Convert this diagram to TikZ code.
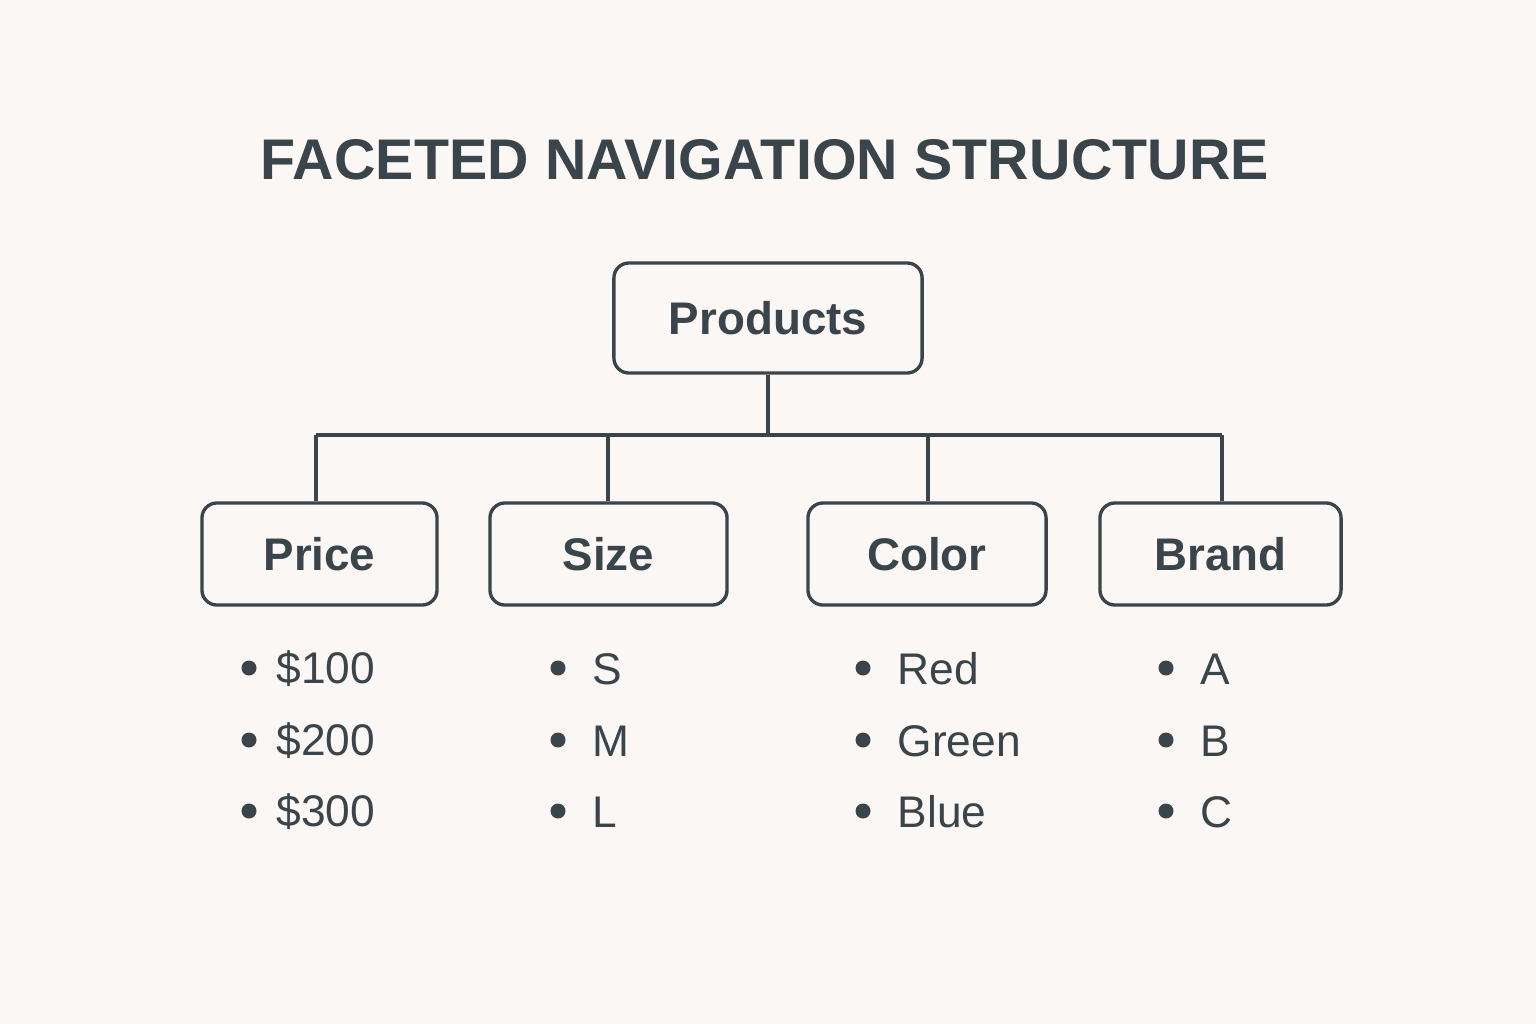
\documentclass[tikz,border=0pt]{standalone}
\usepackage{fontspec}
\setmainfont{Liberation Sans}
\definecolor{ink}{HTML}{3A444B}
\definecolor{bg}{HTML}{FBF7F4}
\tikzset{
  facet/.style={draw=ink, line width=0.95pt, rounded corners=0.15cm, fill=bg,
    text=ink, font=\fontsize{13.0}{16}\selectfont\bfseries, inner sep=0pt, anchor=center},
  conn/.style={draw=ink, line width=0.95pt},
  item/.style={text=ink, font=\fontsize{12.6}{15}\selectfont, anchor=west, inner sep=0pt},
  dot/.style={circle, fill=ink, inner sep=0pt, minimum size=0.15cm}
}
\begin{document}
\begin{tikzpicture}[x=0.01cm,y=-0.01cm]
\fill[bg] (0,0) rectangle (1536,1024);
\useasboundingbox (0,0) rectangle (1536,1024);
\node[text=ink, font=\fontsize{16.3}{20}\selectfont\bfseries\addfontfeatures{LetterSpace=0.3}] (title) at (765,160) {FACETED NAVIGATION STRUCTURE};
\node[facet, minimum width=3.08cm, minimum height=1.10cm] (prod) at (768,318) {Products};
\node[facet, minimum width=2.35cm, minimum height=1.02cm] (price) at (319.5,554) {Price};
\node[facet, minimum width=2.37cm, minimum height=1.02cm] (size) at (608.5,554) {Size};
\node[facet, minimum width=2.38cm, minimum height=1.02cm] (color) at (927,554) {Color};
\node[facet, minimum width=2.41cm, minimum height=1.02cm] (brand) at (1220.5,554) {Brand};
\coordinate (hub) at (768,435);
\coordinate (h1) at (316,435);
\coordinate (h2) at (608,435);
\coordinate (h3) at (928,435);
\coordinate (h4) at (1222,435);
\draw[conn] (prod.south) -- (hub);
\draw[conn] (h1) -- (h4);
\draw[conn] (h1) -- (h1 |- price.north);
\draw[conn] (h2) -- (h2 |- size.north);
\draw[conn] (h3) -- (h3 |- color.north);
\draw[conn] (h4) -- (h4 |- brand.north);
% lists
\foreach \bx/\tx/\a/\b/\c/\n in {249/276/\$100/\$200/\$300/p, 558/592/S/M/L/s, 863/897/Red/Green/Blue/c, 1166/1200/A/B/C/b}{
  \node[dot] (\n d1) at (\bx,668) {};
  \node[dot] (\n d2) at (\bx,740) {};
  \node[dot] (\n d3) at (\bx,811) {};
  \node[item] (\n t1) at (\tx,669) {\a};
  \node[item] (\n t2) at (\tx,741) {\b};
  \node[item] (\n t3) at (\tx,812) {\c};
}
\end{tikzpicture}
\end{document}
